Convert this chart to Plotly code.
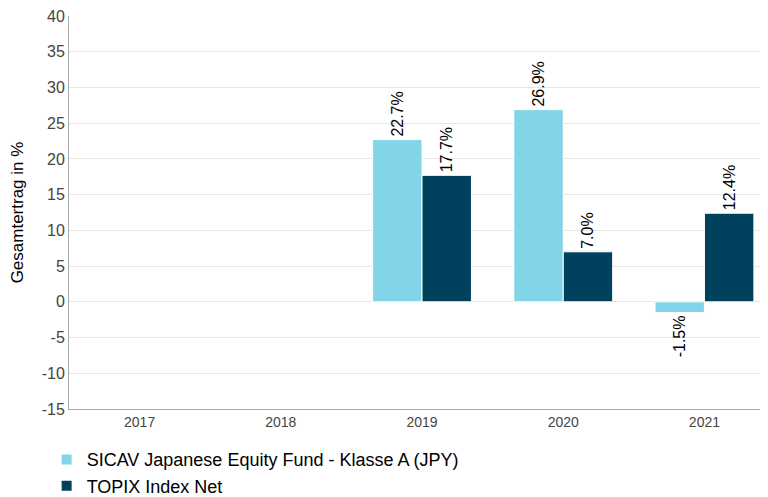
import plotly.graph_objects as go

years = ["2017", "2018", "2019", "2020", "2021"]
fund_name = "SICAV Japanese Equity Fund - Klasse A (JPY)"
index_name = "TOPIX Index Net"
fund_values = [None, None, 22.7, 26.9, -1.5]
index_values = [None, None, 17.7, 7.0, 12.4]
y_ticks = [-15, -10, -5, 0, 5, 10, 15, 20, 25, 30, 35, 40]
y_tick_text = [str(t) for t in y_ticks]

def labels(vals):
    return ["" if v is None else f"{v:.1f}%" for v in vals]

fig = go.Figure()
fig.add_trace(go.Bar(
    x=years, y=fund_values, name=fund_name,
    marker=dict(color="#82d5e8", line=dict(color="white", width=1)),
    text=labels(fund_values), textposition="outside", textangle=-90,
    textfont=dict(family="Liberation Sans, Arial", size=16, color="#000"),
    cliponaxis=False,
))
fig.add_trace(go.Bar(
    x=years, y=index_values, name=index_name,
    marker=dict(color="#00415e", line=dict(color="white", width=1)),
    text=labels(index_values), textposition="outside", textangle=-90,
    textfont=dict(family="Liberation Sans, Arial", size=16, color="#000"),
    cliponaxis=False,
))

fig.update_layout(
    width=760, height=489,
    margin=dict(l=61, r=0, t=8, b=88, autoexpand=False),
    paper_bgcolor="white", plot_bgcolor="white",
    barmode="group", bargap=0.3, bargroupgap=0.0,
    font=dict(family="Liberation Sans, Arial", color="#000"),
    showlegend=True,
    legend=dict(orientation="v", x=-0.032, xanchor="left", y=-0.082, yanchor="top",
                font=dict(size=18, color="#000"), tracegroupgap=0, itemsizing="constant"),
    xaxis=dict(
        type="category", range=[-0.5, 4.45], automargin=False,
        showline=True, linecolor="#aaaaaa", linewidth=1,
        ticks="", tickfont=dict(size=14, color="#444"),
        showgrid=False,
    ),
    yaxis=dict(
        range=[-15, 40], tickvals=y_ticks, ticktext=y_tick_text, automargin=False,
        ticklabeloverflow="allow",
        showline=True, linecolor="#aaaaaa", linewidth=1,
        showgrid=True, gridcolor="#e6e6e6", zeroline=False,
        tickfont=dict(size=16, color="#444"),
        title=dict(text="Gesamtertrag in %", font=dict(size=17, color="#000")),
    ),
)

fig.write_html("out.html")
